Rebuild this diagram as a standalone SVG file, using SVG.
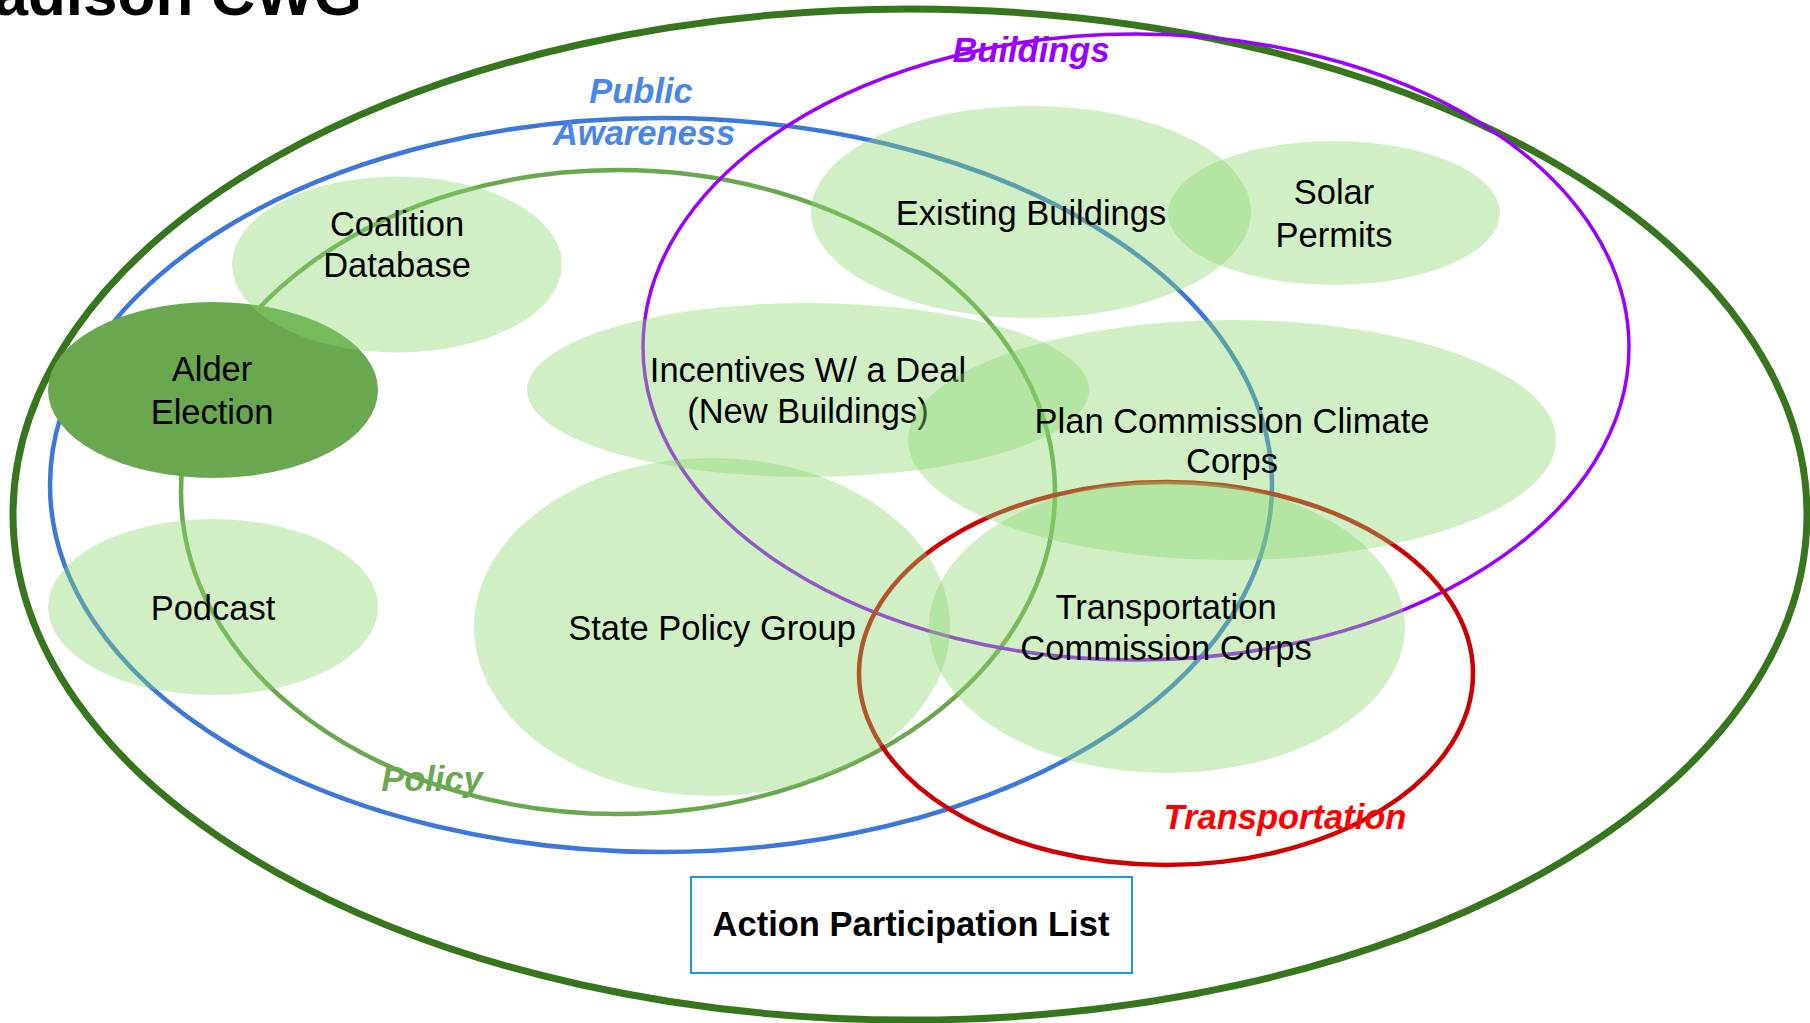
<svg xmlns="http://www.w3.org/2000/svg" width="1810" height="1023" viewBox="0 0 1810 1023">
<style>
.ring{fill:none}
.blob{fill:rgb(137,216,110);fill-opacity:0.4;stroke:none}
.t{font-family:"Liberation Sans",Arial,Helvetica,sans-serif;font-size:34.5px;fill:#000;text-anchor:middle}
.lab{font-family:"Liberation Sans",Arial,Helvetica,sans-serif;font-size:34.5px;font-weight:bold;font-style:italic;text-anchor:middle}
.b{font-family:"Liberation Sans",Arial,Helvetica,sans-serif;font-weight:bold;fill:#000}
</style>
<rect width="1810" height="1023" fill="#ffffff"/>
<text id="title" class="b" x="362" y="15" font-size="62" text-anchor="end">Madison CWG</text>
<g id="cwg">
<ellipse class="ring" cx="910" cy="514.5" rx="897" ry="505.5" stroke="#38761d" stroke-width="7"/>
</g>
<g id="public-awareness">
<ellipse class="ring" cx="661" cy="485" rx="611" ry="367" stroke="#3c78d8" stroke-width="4.5"/>
<text class="lab" fill="#4a86e8" x="641" y="103">Public</text>
<text class="lab" fill="#4a86e8" x="644" y="145">Awareness</text>
</g>
<g id="policy">
<ellipse class="ring" cx="618" cy="492" rx="437" ry="322" stroke="#6aa84f" stroke-width="4.5"/>
<text class="lab" fill="#6aa84f" x="432" y="791">Policy</text>
</g>
<g id="buildings">
<ellipse class="ring" cx="1136" cy="347" rx="493" ry="313" stroke="#9900ff" stroke-width="3.5"/>
<text class="lab" fill="#9900ff" x="1031" y="62">Buildings</text>
</g>
<g id="transportation">
<ellipse class="ring" cx="1166" cy="673.5" rx="307" ry="191.5" stroke="#cc0000" stroke-width="4.5"/>
<text class="lab" fill="#ff0000" x="1285" y="829">Transportation</text>
</g>
<g id="connectors"></g>
<g id="alder-election">
<ellipse cx="213" cy="390" rx="165" ry="88" fill="#6aa84f"/>
<text class="t" x="212" y="380.5">Alder</text>
<text class="t" x="212" y="423.5">Election</text>
</g>
<g id="coalition-database">
<ellipse class="blob" cx="397" cy="264.5" rx="165" ry="88"/>
<text class="t" x="397" y="236">Coalition</text>
<text class="t" x="397" y="277">Database</text>
</g>
<g id="podcast">
<ellipse class="blob" cx="213" cy="607" rx="165" ry="88"/>
<text class="t" x="213" y="620">Podcast</text>
</g>
<g id="existing-buildings">
<ellipse class="blob" cx="1031" cy="212" rx="220" ry="106"/>
<text class="t" x="1031" y="224.5">Existing Buildings</text>
</g>
<g id="solar-permits">
<ellipse class="blob" cx="1334" cy="213" rx="166" ry="72"/>
<text class="t" x="1334" y="204">Solar</text>
<text class="t" x="1334" y="247">Permits</text>
</g>
<g id="incentives">
<ellipse class="blob" cx="808" cy="390" rx="281" ry="87"/>
<text class="t" x="808" y="382">Incentives W/ a Deal</text>
<text class="t" x="808" y="423">(New Buildings)</text>
</g>
<g id="plan-commission">
<ellipse class="blob" cx="1232" cy="440" rx="324" ry="120"/>
<text class="t" x="1232" y="432.5">Plan Commission Climate</text>
<text class="t" x="1232" y="473">Corps</text>
</g>
<g id="state-policy-group">
<ellipse class="blob" cx="712" cy="627" rx="238" ry="169"/>
<text class="t" x="712" y="639.5">State Policy Group</text>
</g>
<g id="transportation-commission">
<ellipse class="blob" cx="1167" cy="627" rx="238" ry="146"/>
<text class="t" x="1166" y="618.5">Transportation</text>
<text class="t" x="1166" y="660">Commission Corps</text>
</g>
<g id="action-participation-list">
<rect x="691" y="877" width="441" height="96" fill="#ffffff" stroke="#1a9bd7" stroke-width="2"/>
<text class="b" x="911" y="936" font-size="34.5" text-anchor="middle">Action Participation List</text>
</g>
</svg>
